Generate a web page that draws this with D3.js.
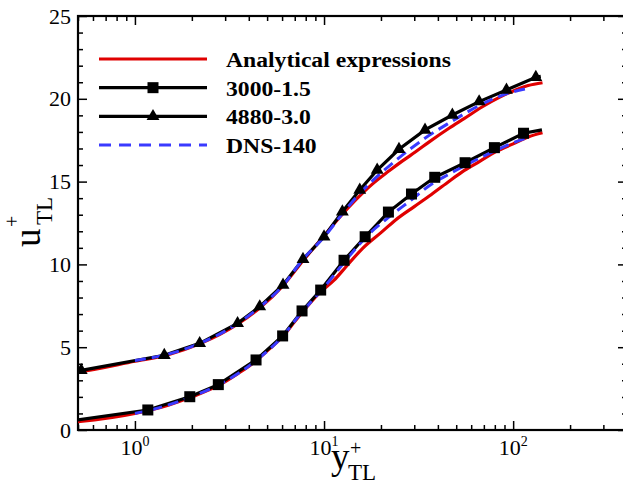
<!DOCTYPE html>
<html>
<head>
<meta charset="utf-8">
<script src="https://cdn.jsdelivr.net/npm/d3@7"></script>
<style>
  body { margin: 0; background: #fff; }
  svg { display: block; }
  text { font-family: "Liberation Serif", "Times New Roman", serif; fill: #000; }
  .legend-label { font-weight: bold; font-size: 21.5px; }
  .tick-label { font-size: 22px; }
</style>
</head>
<body>
<div id="chart"></div>
<script>
// values: [y+_TL, u+_TL]
const analyticLow = [[0.45,0.45],[0.5,0.5],[1,1.0],[1.5,1.5],[2,2.0],[2.8,2.72],[3.5,3.4],[4.4,4.2],
  [5.2,4.95],[6,5.6],[7,6.55],[8,7.35],[9.6,8.35],[11.3,9.05],[13,9.83],[16,10.97],[20,11.92],
  [24,12.7],[30,13.49],[36,14.13],[45,14.95],[54,15.6],[65,16.15],[81,16.81],[100,17.28],
  [121,17.71],[143,17.95]];
const analyticHigh = [[0.42,3.4],[0.5,3.5],[1,4.15],[1.5,4.55],[2.2,5.2],[3.5,6.4],[4.6,7.4],
  [6.07,8.72],[7.74,10.22],[9.8,11.6],[12,12.8],[14.7,13.89],[18,14.85],[22.1,15.65],[26,16.25],
  [30.5,16.8],[36,17.4],[45.8,18.22],[55,18.8],[68.8,19.52],[85,20.1],[103,20.53],[120,20.8],
  [143,20.97]];

const case3000 = [[0.45,0.53],[1.17,1.21],[1.95,2.01],[2.76,2.74],[4.37,4.23],[6.04,5.68],
  [7.65,7.19],[9.6,8.45],[12.76,10.25],[16.5,11.67],[21.9,13.16],[29.0,14.25],[38.5,15.26],
  [55.7,16.14],[79.6,17.05],[113.5,17.92]];
const case3000End = [142, 18.12];   // last profile point, drawn without a marker

const case4880 = [[0.42,3.45],[0.52,3.6],[1.43,4.51],[2.2,5.23],[3.49,6.44],[4.57,7.45],
  [6.07,8.76],[7.74,10.31],[10.0,11.67],[12.5,13.18],[15.45,14.49],[19.1,15.7],[24.9,16.95],
  [34.2,18.12],[47.7,19.02],[66.1,19.83],[92.2,20.53],[131.8,21.3]];
const case4880End = [140, 21.35];

const dnsLow = [[1,1.0],[1.2,1.2],[2,2.02],[2.8,2.75],[4.4,4.22],[6,5.62],[7.6,7.1],[9.6,8.38],
  [13.6,10.5],[17,11.75],[22,12.85],[29,13.9],[36,14.75],[45,15.4],[58.5,16.1],[80,16.85],
  [100,17.35],[122,17.7]];
const dnsHigh = [[1,4.2],[1.5,4.58],[2.2,5.23],[3.5,6.44],[4.6,7.45],[6.1,8.76],[7.7,10.28],
  [10,11.65],[12.5,13.05],[15.5,14.3],[20.4,15.6],[25,16.45],[34,17.6],[46,18.55],[69,19.7],
  [95,20.35],[122,20.65]];

const legendNames = ["Analytical expressions", "3000-1.5", "4880-3.0", "DNS-140"];
const xMajorTicks = [1, 10, 100];
const yMajorTicks = [0, 5, 10, 15, 20, 25];

const width = 623, height = 481;
const plot = {left: 78, top: 16, right: 627, bottom: 430};

const svg = d3.select("#chart").append("svg")
    .attr("width", width)
    .attr("height", height);

const x = d3.scaleLog().domain([0.5, 400]).range([plot.left, plot.right]);
const y = d3.scaleLinear().domain([0, 25]).range([plot.bottom, plot.top]);

// minor ticks
const xMinorTicks = [];
[0.1, 1, 10, 100].forEach(dec => {
    for (let k = 2; k <= 9; k++) {
        const v = dec * k;
        if (v >= 0.5 && v <= 400) xMinorTicks.push(v);
    }
});
const yMinorTicks = d3.range(0, 26).filter(v => v % 5 !== 0);

svg.append("clipPath").attr("id", "plot-clip")
    .append("rect")
    .attr("x", plot.left).attr("y", plot.top)
    .attr("width", plot.right - plot.left).attr("height", plot.bottom - plot.top);

// axes, ticks pointing inward
const axes = svg.append("g").attr("class", "axes");
const axisDefs = [
    [() => d3.axisBottom(x), `translate(0,${plot.bottom})`, xMinorTicks, xMajorTicks],
    [() => d3.axisTop(x), `translate(0,${plot.top})`, xMinorTicks, xMajorTicks],
    [() => d3.axisLeft(y), `translate(${plot.left},0)`, yMinorTicks, yMajorTicks],
    [() => d3.axisRight(y), `translate(${plot.right},0)`, yMinorTicks, yMajorTicks]
];
axisDefs.forEach(([makeAxis, tr, minor, major]) => {
    axes.append("g").attr("transform", tr)
        .call(makeAxis().tickValues(minor).tickSize(-5).tickFormat(""));
    axes.append("g").attr("transform", tr)
        .call(makeAxis().tickValues(major).tickSize(-9).tickFormat(""));
});
axes.selectAll(".domain").remove();
axes.selectAll(".tick line").attr("stroke", "#000").attr("stroke-width", 1.5);

// frame
svg.append("rect")
    .attr("x", plot.left).attr("y", plot.top)
    .attr("width", plot.right - plot.left).attr("height", plot.bottom - plot.top)
    .attr("fill", "none").attr("stroke", "#000").attr("stroke-width", 2.2);

// tick labels
svg.append("g").selectAll("text")
    .data(yMajorTicks)
    .join("text")
        .attr("class", "tick-label")
        .attr("x", plot.left - 7)
        .attr("y", d => y(d) + 7.5)
        .attr("text-anchor", "end")
        .text(d => d);

const xLabels = svg.append("g").selectAll("text")
    .data(xMajorTicks)
    .join("text")
        .attr("class", "tick-label")
        .attr("x", d => x(d))
        .attr("y", 455)
        .attr("text-anchor", "middle");
xLabels.append("tspan").text("10");
xLabels.append("tspan")
    .attr("dy", -9)
    .style("font-size", "14px")
    .text(d => Math.round(Math.log10(d)));

// data
const data = svg.append("g").attr("clip-path", "url(#plot-clip)");
const smooth = d3.line().x(d => x(d[0])).y(d => y(d[1])).curve(d3.curveMonotoneX);
const straight = d3.line().x(d => x(d[0])).y(d => y(d[1]));

const red = "#e00000", blue = "#3a3aff";
[analyticLow, analyticHigh].forEach(s => {
    data.append("path").attr("d", smooth(s))
        .attr("fill", "none").attr("stroke", red).attr("stroke-width", 3.2);
});
[[case3000, case3000End], [case4880, case4880End]].forEach(([s, end]) => {
    data.append("path").attr("d", straight(s.concat([end])))
        .attr("fill", "none").attr("stroke", "#000").attr("stroke-width", 3.2);
});
[dnsLow, dnsHigh].forEach(s => {
    data.append("path").attr("d", smooth(s))
        .attr("fill", "none").attr("stroke", blue).attr("stroke-width", 3)
        .attr("stroke-dasharray", "11,6");
});

const triangle = d3.symbol().type(d3.symbolTriangle).size(72);
data.selectAll(".sq")
    .data(case3000)
    .join("rect")
        .attr("class", "sq")
        .attr("x", d => x(d[0]) - 5.5)
        .attr("y", d => y(d[1]) - 5.5)
        .attr("width", 11).attr("height", 11)
        .attr("fill", "#000");
data.selectAll(".tri")
    .data(case4880)
    .join("path")
        .attr("class", "tri")
        .attr("transform", d => `translate(${x(d[0])},${y(d[1])})`)
        .attr("d", triangle)
        .attr("fill", "#000");

// legend
const legend = svg.append("g").attr("class", "legend");
const rowY = i => 59 + i * 28.67;
const legendStyles = [
    {stroke: red, dash: null, marker: null},
    {stroke: "#000", dash: null, marker: "square"},
    {stroke: "#000", dash: null, marker: "triangle"},
    {stroke: blue, dash: "12,8", marker: null}
];
legendNames.forEach((name, i) => {
    const st = legendStyles[i];
    const ly = rowY(i);
    legend.append("line")
        .attr("x1", 99).attr("x2", 207).attr("y1", ly).attr("y2", ly)
        .attr("stroke", st.stroke).attr("stroke-width", 3.2)
        .attr("stroke-dasharray", st.dash);
    if (st.marker === "square") {
        legend.append("rect").attr("x", 153 - 5.5).attr("y", ly - 5.5)
            .attr("width", 11).attr("height", 11).attr("fill", "#000");
    } else if (st.marker === "triangle") {
        legend.append("path").attr("transform", `translate(153,${ly})`)
            .attr("d", triangle).attr("fill", "#000");
    }
    // the reference lettering is a little wider than Liberation Serif
    legend.append("text")
        .attr("class", "legend-label")
        .attr("transform", `translate(226,${ly + 8}) scale(1.1,1)`)
        .text(name);
});

// axis titles
const xTitle = svg.append("g");
xTitle.append("text").attr("x", 331).attr("y", 469).style("font-size", "37px").text("y");
xTitle.append("text").attr("x", 348).attr("y", 480).style("font-size", "23px").text("TL");
xTitle.append("text").attr("x", 350).attr("y", 455).style("font-size", "20px").text("+");

const yTitle = svg.append("g").attr("transform", "translate(40,247) rotate(-90)");
yTitle.append("text").attr("x", 0).attr("y", 0).style("font-size", "37px").text("u");
yTitle.append("text").attr("x", 22).attr("y", 11.5).style("font-size", "23px").text("TL");
yTitle.append("text").attr("x", 20).attr("y", -21).style("font-size", "20px").text("+");
</script>
</body>
</html>
